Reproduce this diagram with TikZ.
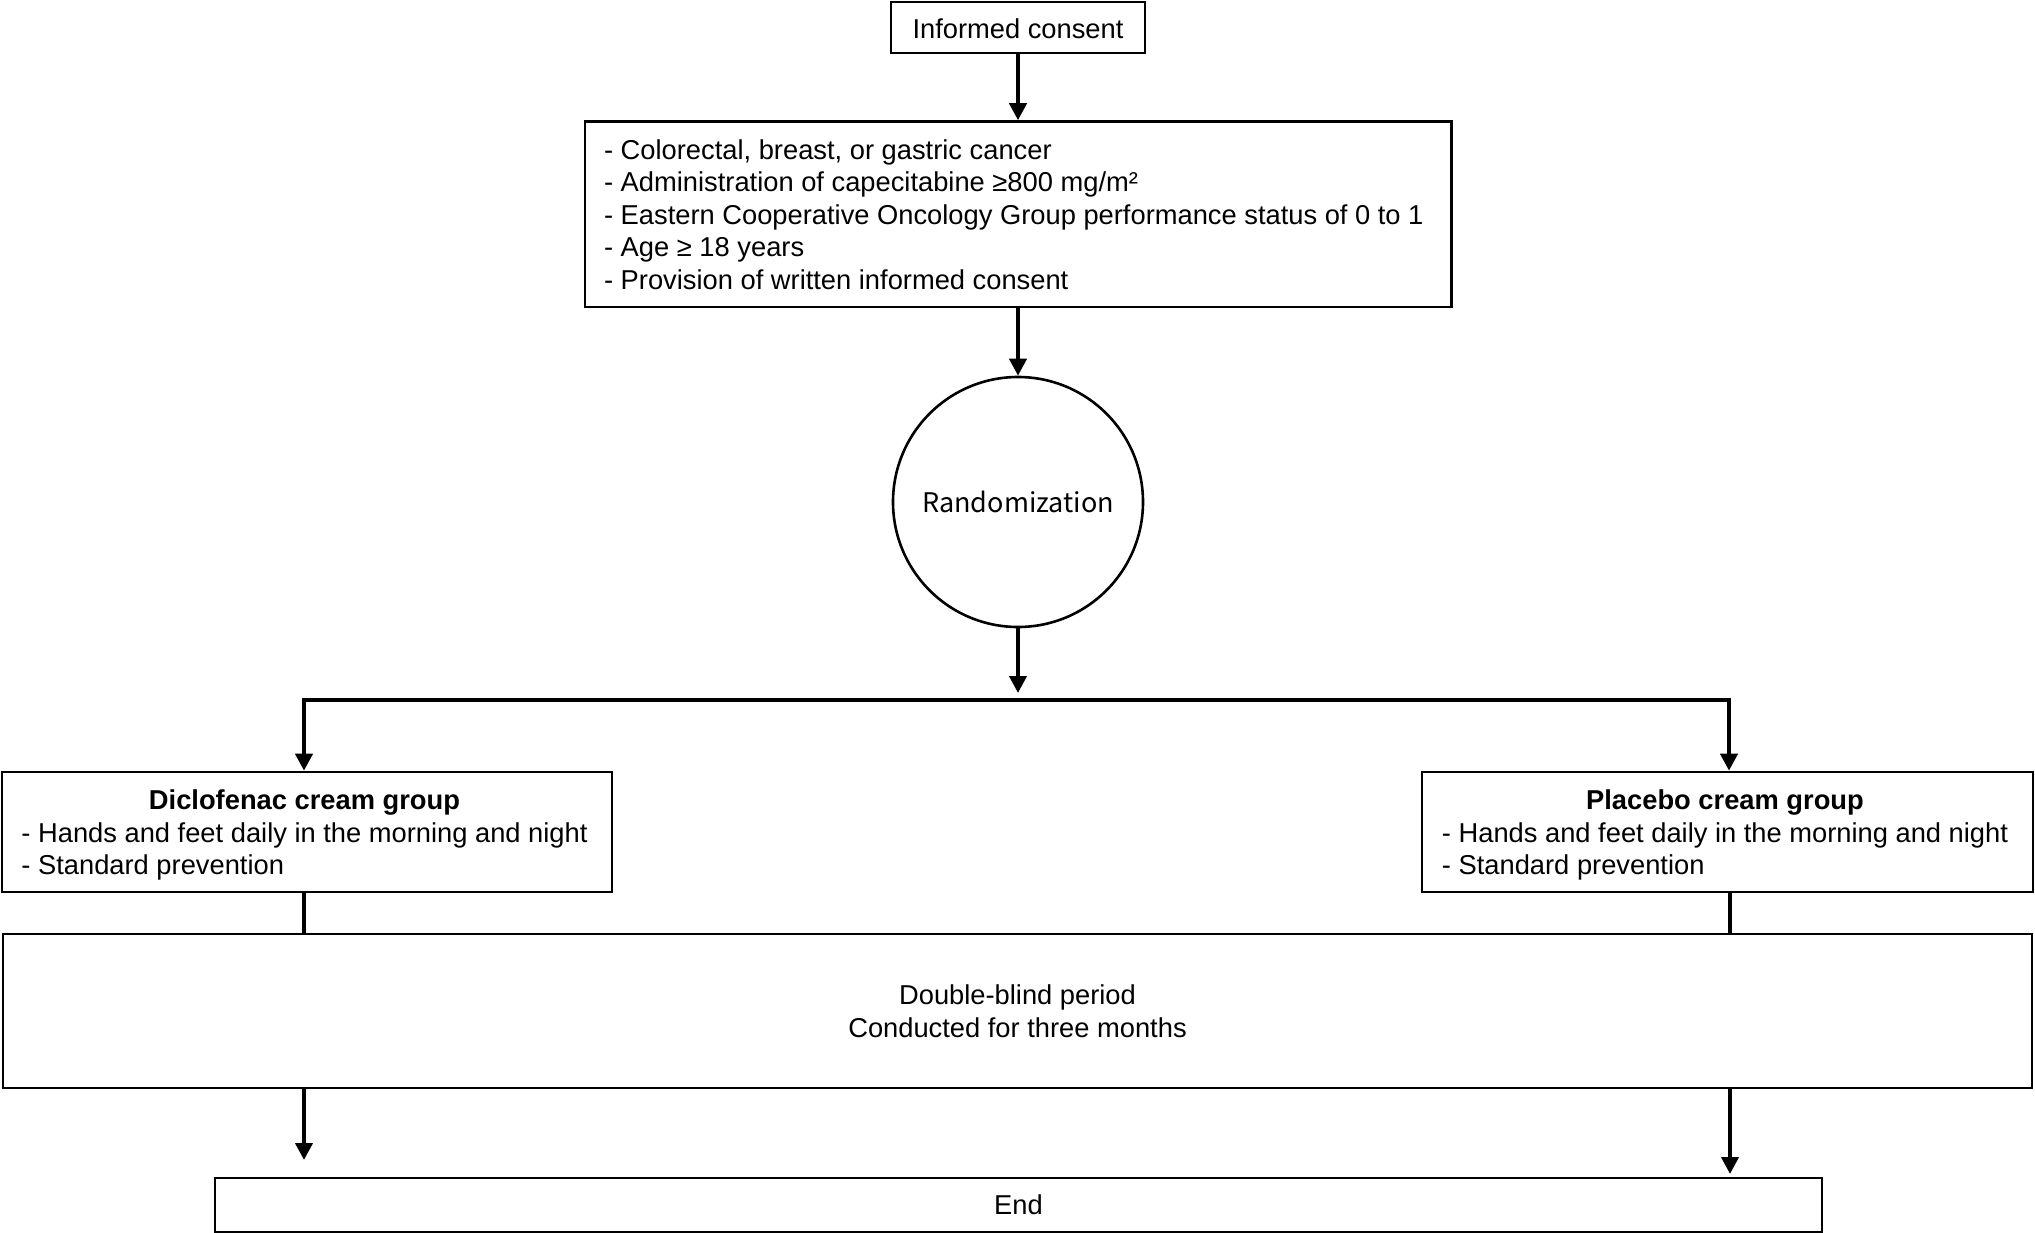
\documentclass[tikz,border=0pt]{standalone}
\usepackage{fontspec}
\setmainfont{Liberation Sans}
\newfontfamily\jpfont{Noto Sans CJK JP}
\usetikzlibrary{arrows.meta,shapes.geometric,calc}
\newcommand{\lowerby}[2]{\raisebox{-#1}[\height][\depth]{#2}}
\tikzset{
  x=1pt,y=-1pt,
  box/.style={draw,line width=2.6pt,rectangle,inner sep=0pt,font=\fontsize{27.3}{32.6}\selectfont},
  conn/.style={line width=4pt},
  arr/.style={line width=4pt,-{Triangle[width=17pt,length=17pt]}},
}
\begin{document}
\begin{tikzpicture}
\useasboundingbox (0,0) rectangle (2035,1233);
\fill[white] (0,0) rectangle (2035,1233);

\node[box,minimum width=254pt,minimum height=51pt] (consent) at (1018,27.5) {\lowerby{1.5pt}{Informed consent}};

\node[box,minimum width=866.5pt,minimum height=185.5pt] (crit) at (1018.3,214.3)
 {\lowerby{3.5pt}{\begin{tabular}{@{}l@{}}
  - Colorectal, breast, or gastric cancer\\
  - Administration of capecitabine ≥800 mg/m²\\
  - Eastern Cooperative Oncology Group performance status of 0 to 1\\
  - Age ≥ 18 years\\
  - Provision of written informed consent
  \end{tabular}}\hspace*{9pt}};

\node[draw,circle,line width=2.6pt,inner sep=0pt,minimum size=250pt,
      font=\jpfont\fontsize{27}{32}\selectfont] (rand) at (1018,502) {Randomization};

\node[box,minimum width=610pt,minimum height=120pt] (dic) at (307,832)
 {\lowerby{3.5pt}{\begin{tabular}{@{}l@{}}
   \multicolumn{1}{@{}c@{}}{\bfseries Diclofenac cream group}\\
   - Hands and feet daily in the morning and night\\
   - Standard prevention
  \end{tabular}}\hspace*{5pt}};

\node[box,minimum width=611pt,minimum height=120pt] (pla) at (1727.5,832)
 {\lowerby{3.5pt}{\begin{tabular}{@{}l@{}}
   \multicolumn{1}{@{}c@{}}{\bfseries Placebo cream group}\\
   - Hands and feet daily in the morning and night\\
   - Standard prevention
  \end{tabular}}\hspace*{5pt}};

\node[box,minimum width=2029pt,minimum height=154pt,align=center] (dbl) at (1017.5,1011)
 {Double-blind period\\Conducted for three months};

\node[box,minimum width=1607pt,minimum height=54pt] (endb) at (1018.5,1205) {End};

\coordinate (bl) at (304,700);
\coordinate (br) at (1729,700);
\coordinate (rtip) at (1018,693);
\coordinate (etl) at (304,1160);
\coordinate (etr) at (1730,1174);

\draw[arr] (consent.south) -- (crit.north -| consent.south);
\draw[arr] (crit.south -| rand.north) -- (rand.north);
\draw[arr] (rand.south) -- (rtip);
\draw[arr] (br) -- (bl) -- (bl |- dic.north);
\draw[arr] (bl) -- (br) -- (br |- pla.north);
\draw[conn] (dic.south -| bl) -- (dbl.north -| bl);
\draw[conn] (pla.south -| etr) -- (dbl.north -| etr);
\draw[arr] (dbl.south -| etl) -- (etl);
\draw[arr] (dbl.south -| etr) -- (etr);
\end{tikzpicture}
\end{document}
